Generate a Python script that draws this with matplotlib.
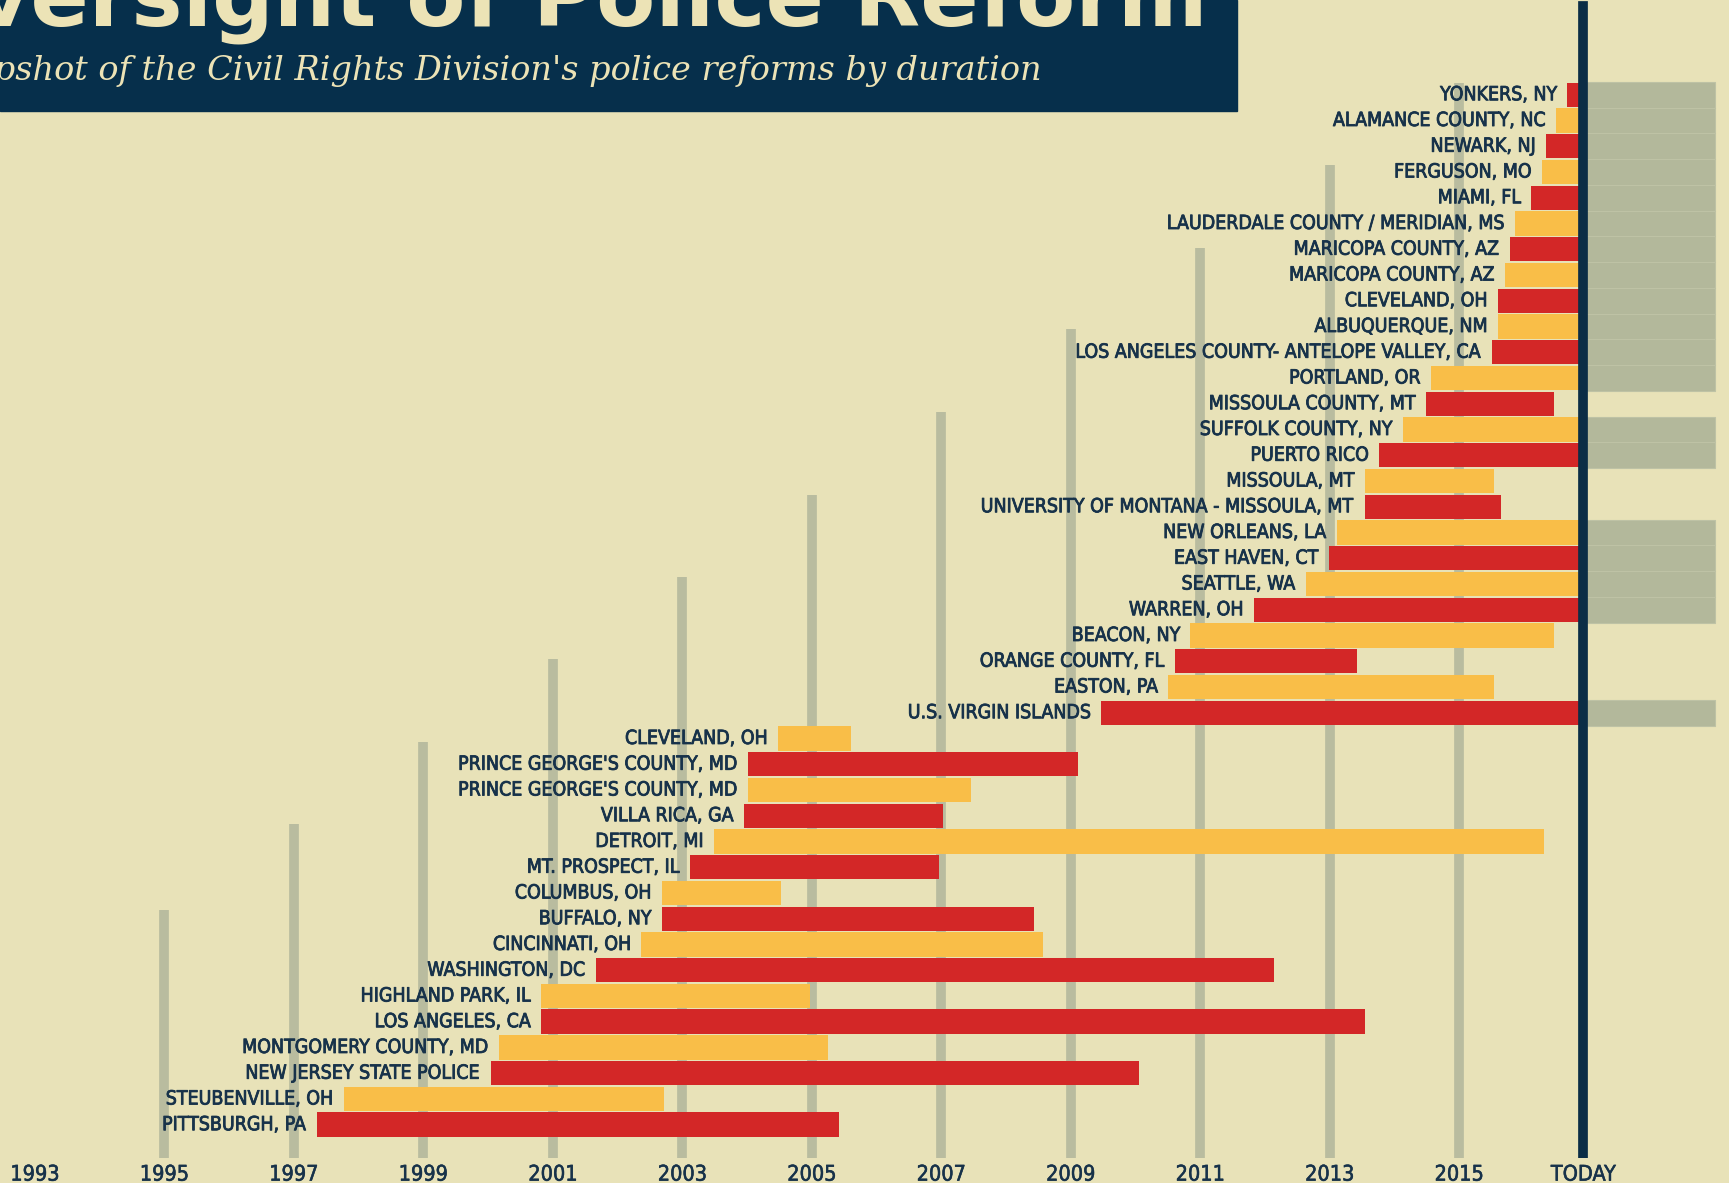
import matplotlib.pyplot as plt
import matplotlib.patheffects as pe
from matplotlib import font_manager as fm
from matplotlib.patches import Rectangle

# --- data (years as decimals) ---
TODAY = 2016.92

labels = [
    "YONKERS, NY", "ALAMANCE COUNTY, NC", "NEWARK, NJ", "FERGUSON, MO", "MIAMI, FL",
    "LAUDERDALE COUNTY / MERIDIAN, MS", "MARICOPA COUNTY, AZ", "MARICOPA COUNTY, AZ",
    "CLEVELAND, OH", "ALBUQUERQUE, NM", "LOS ANGELES COUNTY- ANTELOPE VALLEY, CA",
    "PORTLAND, OR", "MISSOULA COUNTY, MT", "SUFFOLK COUNTY, NY", "PUERTO RICO",
    "MISSOULA, MT", "UNIVERSITY OF MONTANA - MISSOULA, MT", "NEW ORLEANS, LA",
    "EAST HAVEN, CT", "SEATTLE, WA", "WARREN, OH", "BEACON, NY", "ORANGE COUNTY, FL",
    "EASTON, PA", "U.S. VIRGIN ISLANDS", "CLEVELAND, OH", "PRINCE GEORGE'S COUNTY, MD",
    "PRINCE GEORGE'S COUNTY, MD", "VILLA RICA, GA", "DETROIT, MI", "MT. PROSPECT, IL",
    "COLUMBUS, OH", "BUFFALO, NY", "CINCINNATI, OH", "WASHINGTON, DC", "HIGHLAND PARK, IL",
    "LOS ANGELES, CA", "MONTGOMERY COUNTY, MD", "NEW JERSEY STATE POLICE",
    "STEUBENVILLE, OH", "PITTSBURGH, PA",
]
starts = [
    2016.67, 2016.50, 2016.34, 2016.28, 2016.11, 2015.87, 2015.78, 2015.71, 2015.60,
    2015.60, 2015.51, 2014.57, 2014.49, 2014.13, 2013.77, 2013.54, 2013.54, 2013.11,
    2012.99, 2012.63, 2011.83, 2010.85, 2010.61, 2010.51, 2009.47, 2004.48, 2004.02,
    2004.02, 2003.95, 2003.49, 2003.12, 2002.68, 2002.68, 2002.37, 2001.66, 2000.82,
    2000.82, 2000.17, 2000.04, 1997.77, 1997.35,
]
ends = [
    TODAY, TODAY, TODAY, TODAY, TODAY, TODAY, TODAY, TODAY, TODAY, TODAY, TODAY,
    TODAY, 2016.46, TODAY, TODAY, 2015.54, 2015.65, TODAY, TODAY, TODAY, TODAY,
    2016.46, 2013.43, 2015.54, TODAY, 2005.60, 2009.11, 2007.46, 2007.02, 2016.31,
    2006.97, 2004.53, 2008.43, 2008.57, 2012.14, 2004.97, 2013.55, 2005.25, 2010.06,
    2002.71, 2005.42,
]
ongoing = [
    1, 1, 1, 1, 1, 1, 1, 1, 1, 1, 1, 1, 0, 1, 1, 0, 0, 1, 1, 1, 1,
    0, 0, 0, 1, 0, 0, 0, 0, 0, 0, 0, 0, 0, 0, 0, 0, 0, 0, 0, 0,
]
tick_years = [1993, 1995, 1997, 1999, 2001, 2003, 2005, 2007, 2009, 2011, 2013, 2015]
tick_labels = ["1993", "1995", "1997", "1999", "2001", "2003", "2005", "2007",
               "2009", "2011", "2013", "2015"]
grid_years = [1995, 1997, 1999, 2001, 2003, 2005, 2007, 2009, 2011, 2013, 2015]
grid_tops = [31.65, 28.31, 25.14, 21.93, 18.72, 15.55, 12.33, 9.08, 5.95, 2.74, -0.47]

BG = "#e8e2b8"
RED = "#d32727"
YEL = "#f9be48"
GRID = "#b9bc9f"
BOX = "#b3b89b"
NAVY = "#0b2d46"
TXT = "#17324a"


def wnum(w):
    if isinstance(w, int):
        return w
    return {"bold": 700, "semibold": 600, "demibold": 600, "medium": 500}.get(str(w), 400)


def pick_narrow():
    # look for a condensed sans on the system, best match first
    best, best_score = None, 99
    for f in fm.fontManager.ttflist:
        narrow = "Narrow" in f.name or "Condensed" in f.name or "condensed" in str(f.stretch)
        if not narrow or f.style != "normal":
            continue
        w = wnum(f.weight)
        if f.name.startswith("DejaVu Sans") and "Mono" not in f.name:
            score = 0 if w < 700 else 2
        elif "Liberation Sans Narrow" in f.name:
            score = 1 if w < 700 else 3
        elif "Roboto" in f.name:
            score = 1 if w <= 500 else 4
        else:
            score = 6
        if score < best_score:
            best, best_score = f, score
    if best is not None:
        return fm.FontProperties(fname=best.fname)
    return fm.FontProperties(family="Roboto")


def lab_font(size):
    fp = narrow.copy()
    fp.set_size(size)
    return fp


narrow = pick_narrow()
thicken = [pe.withStroke(linewidth=0.6, foreground=TXT)]

fig = plt.figure(figsize=(17.29, 11.83), dpi=100, facecolor=BG)
ax = fig.add_axes([0, 0.0214, 1, 0.9786])
ax.set_facecolor(BG)

ybot, ytop = 41.28, -3.68
ax.set_xlim(1992.46, 2019.17)
ax.set_ylim(ybot, ytop)

# staircase gridlines
for yr, top in zip(grid_years, grid_tops):
    ax.vlines(yr, ybot, top, color=GRID, lw=7, zorder=1)

rows = list(range(len(labels)))
colors = [RED if i % 2 == 0 else YEL for i in rows]

# gray "ongoing" boxes to the right of today
for i, on in zip(rows, ongoing):
    if on:
        ax.barh(i, 2018.95 - TODAY, left=TODAY, height=1.0, color=BOX,
                edgecolor="#bec2a5", lw=0.8, zorder=2)

ax.barh(rows, [e - s for s, e in zip(starts, ends)], left=starts, height=0.95,
        color=colors, zorder=3)

for i, lab, s in zip(rows, labels, starts):
    ax.annotate(lab, (s, i), xytext=(-7, 0), textcoords="offset points",
                ha="right", va="center", color=TXT, fontproperties=lab_font(14),
                path_effects=thicken, zorder=4)

ax.axvline(TODAY, ymin=0, ymax=0.995, color=NAVY, lw=7, zorder=5)

ax.set_xticks(tick_years + [TODAY])
ax.set_xticklabels(tick_labels + ["TODAY"], fontproperties=lab_font(15.5), color=TXT)
for t in ax.get_xticklabels():
    t.set_path_effects([pe.withStroke(linewidth=0.4, foreground=TXT)])
ax.tick_params(axis="x", length=0, pad=5)
ax.set_yticks([])
for sp in ax.spines.values():
    sp.set_visible(False)

# title block
fig.add_artist(Rectangle((0, 1 - 101 / 1073), 1122 / 1568, 101 / 1073,
                         transform=fig.transFigure, color="#062f4b", zorder=10))
fig.text(1095 / 1568, 1 - 25 / 1183, "Oversight of Police Reform", ha="right",
         va="baseline", fontsize=62, fontweight="bold", color="#ece3b6",
         family=["DejaVu Sans"], zorder=11)
fig.text(945 / 1568, 1 - 80 / 1183,
         "A snapshot of the Civil Rights Division's police reforms by duration",
         ha="right", va="baseline", fontsize=24.1, style="italic", color="#ece3b6",
         family=["DejaVu Serif"], zorder=11)

fig.savefig("out.png", dpi=100, facecolor=BG)
